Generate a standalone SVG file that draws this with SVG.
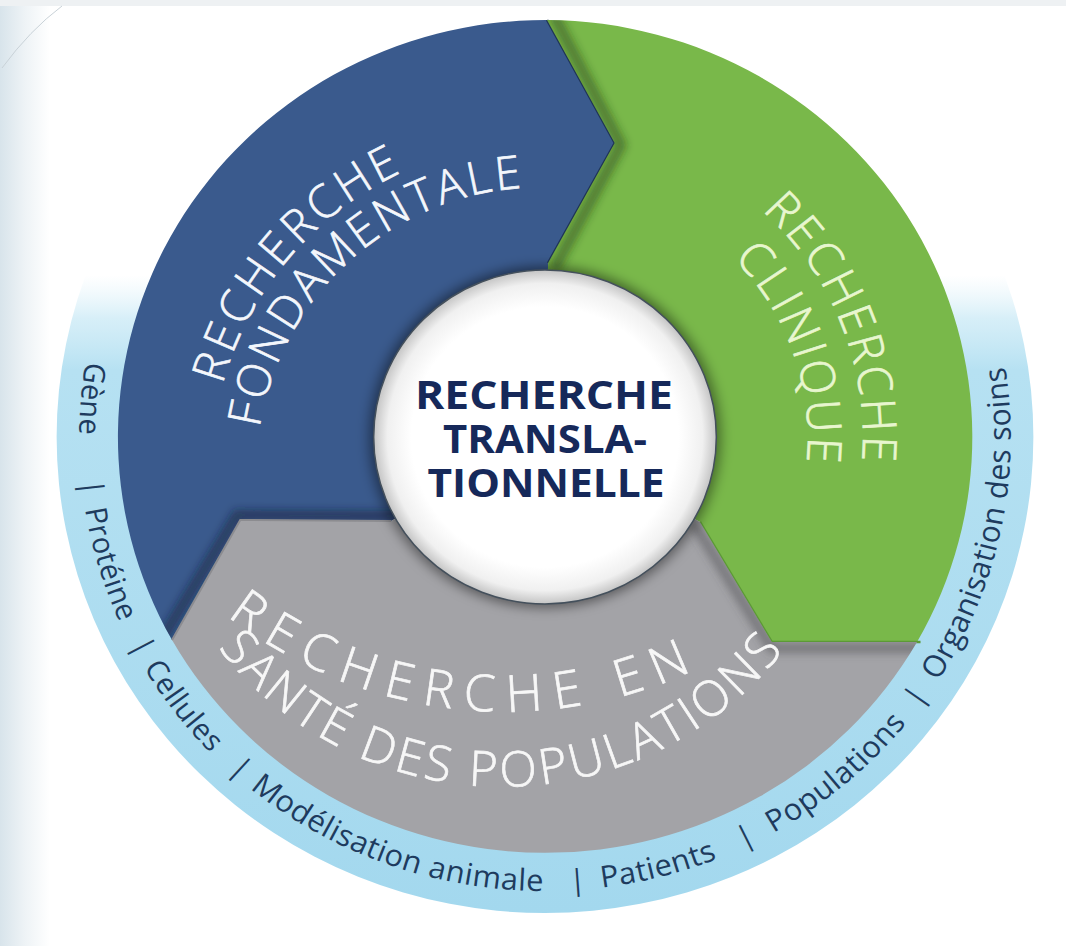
<svg xmlns="http://www.w3.org/2000/svg" width="1066" height="946" viewBox="0 0 1066 946">
<style>
.seg-text{font-family:"Open Sans",Lato,"DejaVu Sans",sans-serif;font-weight:300;font-size:46px;letter-spacing:3px;stroke-width:0.7px}
.blue-t{fill:#f4f7fc;stroke:#f4f7fc}
.green-t{fill:#e8f6cf;stroke:#e8f6cf}
.gray-t{fill:#f7f7f7;stroke:#f7f7f7;font-size:49px}
.band-text{font-family:"Open Sans",Lato,"DejaVu Sans",sans-serif;font-size:30px;fill:#1e3b5e;letter-spacing:0.5px}
.band-l{font-size:29px}
.bar{font-family:"Open Sans",Lato,sans-serif;font-size:29px;fill:#1e3b5e}
.center-text{font-family:"Open Sans","DejaVu Sans",sans-serif;font-weight:700;font-size:40px;fill:#16295a;text-anchor:middle}
</style>
<defs>
  <linearGradient id="bgLeft" gradientUnits="userSpaceOnUse" x1="0" y1="0" x2="50" y2="0">
    <stop offset="0" stop-color="#d8e4eb"/>
    <stop offset="0.5" stop-color="#eef3f6"/>
    <stop offset="1" stop-color="#ffffff"/>
  </linearGradient>
  <linearGradient id="bandGrad" gradientUnits="userSpaceOnUse" x1="0" y1="-476" x2="0" y2="476">
    <stop offset="0" stop-color="#ffffff" stop-opacity="0"/>
    <stop offset="0.33" stop-color="#d8eff8" stop-opacity="0"/>
    <stop offset="0.375" stop-color="#c6e8f5" stop-opacity="0.7"/>
    <stop offset="0.43" stop-color="#b6e1f2" stop-opacity="1"/>
    <stop offset="1" stop-color="#a3d8ee"/>
  </linearGradient>
  <radialGradient id="centerGrad" cx="0.5" cy="0.5" r="0.5">
    <stop offset="0" stop-color="#ffffff"/>
    <stop offset="0.78" stop-color="#ffffff"/>
    <stop offset="0.92" stop-color="#f0f0f0"/>
    <stop offset="1" stop-color="#c4c4c4"/>
  </radialGradient>
  <filter id="blur4" x="-20%" y="-20%" width="140%" height="140%"><feGaussianBlur stdDeviation="4"/></filter>
  <filter id="blur6" x="-20%" y="-20%" width="140%" height="140%"><feGaussianBlur stdDeviation="6"/></filter>
  <clipPath id="clipBlue" clipPathUnits="userSpaceOnUse"><path d="M -363.5 203 A 417 417 0 0 1 2 -417 L 68 -294 L 3 -174 L 0 0 L -150 84 L -297 83 Z"/></clipPath>
  <clipPath id="clipGreen" clipPathUnits="userSpaceOnUse"><path d="M 2 -417 A 417 417 0 0 1 362.6 205 L 221 205 L 151 85 L 0 0 L 3 -174 L 68 -294 Z"/></clipPath>
  <clipPath id="clipGray" clipPathUnits="userSpaceOnUse"><path d="M 362.6 205 A 417 417 0 0 1 -363.5 203 L -297 83 L -150 84 L 0 0 L 151 85 L 221 205 Z"/></clipPath>
  <path id="tpB1" d="M 305.6 703.3 A 330 330 0 0 1 732.6 203.3"/>
  <path id="tpB2" d="M 314.0 644.3 A 285 285 0 0 1 734.6 262.9"/>
  <path id="tpG1" d="M -85.4 -298.0 A 310 310 0 0 1 135.9 278.6"/>
  <path id="tpG2" d="M -61.9 -248.4 A 256 256 0 0 1 104.1 233.9"/>
  <path id="tpP1" d="M 55.1 254.1 A 450 450 0 0 0 946.7 347.9"/>
  <path id="tpP2" d="M 144.4 459.3 A 359 359 0 0 0 859.6 459.3"/>
  <path id="tpBand" d="M -426.6 -155.3 A 454 454 0 1 0 426.6 -155.3"/>
</defs>

<rect x="0" y="0" width="1066" height="946" fill="#ffffff"/>
<rect x="0" y="0" width="50" height="946" fill="url(#bgLeft)"/>
<rect x="0" y="0" width="1066" height="6" fill="#eef1f3"/>
<path d="M 2 68 Q 30 30 62 6" fill="none" stroke="#c9d2d8" stroke-width="1"/>

<g transform="translate(545,437) scale(1.026,1)">
  <g id="band">
    <path d="M -476 0 A 476 476 0 1 0 476 0 A 476 476 0 1 0 -476 0 Z M -414 0 A 414 414 0 1 1 414 0 A 414 414 0 1 1 -414 0 Z" fill="url(#bandGrad)" fill-rule="evenodd"/>
    <text class="band-text band-l"><textPath href="#tpBand" startOffset="83">Gène</textPath></text>
    <text class="bar" text-anchor="middle"><textPath href="#tpBand" startOffset="210">|</textPath></text>
    <text class="band-text band-l"><textPath href="#tpBand" startOffset="231">Protéine</textPath></text>
    <text class="bar" text-anchor="middle"><textPath href="#tpBand" startOffset="381">|</textPath></text>
    <text class="band-text band-l"><textPath href="#tpBand" startOffset="400">Cellules</textPath></text>
    <text class="bar" text-anchor="middle"><textPath href="#tpBand" startOffset="540">|</textPath></text>
    <text class="band-text"><textPath href="#tpBand" startOffset="560">Modélisation animale</textPath></text>
    <text class="bar" text-anchor="middle"><textPath href="#tpBand" startOffset="904">|</textPath></text>
    <text class="band-text"><textPath href="#tpBand" startOffset="927">Patients</textPath></text>
    <text class="bar" text-anchor="middle"><textPath href="#tpBand" startOffset="1078">|</textPath></text>
    <text class="band-text"><textPath href="#tpBand" startOffset="1104">Populations</textPath></text>
    <text class="bar" text-anchor="middle"><textPath href="#tpBand" startOffset="1302">|</textPath></text>
    <text class="band-text"><textPath href="#tpBand" startOffset="1327">Organisation des soins</textPath></text>
  </g>

  <g id="recherche-fondamentale-shape">
    <path d="M -363.5 203 A 417 417 0 0 1 2 -417 L 68 -294 L 3 -174 L 0 0 L -150 84 L -297 83 Z" fill="#3a5a8d"/>
    <g clip-path="url(#clipBlue)">
      <polyline points="-372,210 -297,83 -140,84" fill="none" stroke="#0f1d35" stroke-width="10" stroke-opacity="0.55" filter="url(#blur4)" transform="translate(-3,-5)"/>
    </g>
    <polyline points="2,-417 68,-294 3,-174" fill="none" stroke="#1f3457" stroke-width="2.5"/>
  </g>

  <g id="recherche-clinique">
    <path d="M 2 -417 A 417 417 0 0 1 362.6 205 L 221 205 L 151 85 L 0 0 L 3 -174 L 68 -294 Z" fill="#79b84a"/>
    <g clip-path="url(#clipGreen)">
      <polyline points="2,-425 68,-294 3,-170" fill="none" stroke="#1f3a10" stroke-width="10" stroke-opacity="0.5" filter="url(#blur4)" transform="translate(6,2)"/>
    </g>
    <polyline points="151,85 221,205 366,205" fill="none" stroke="#5c9a36" stroke-width="2.5"/>
    <text class="seg-text green-t"><textPath href="#tpG1" startOffset="50%" text-anchor="middle">RECHERCHE</textPath></text>
    <text class="seg-text green-t"><textPath href="#tpG2" startOffset="50%" text-anchor="middle">CLINIQUE</textPath></text>
  </g>

  <g id="recherche-sante-shape">
    <path d="M 362.6 205 A 417 417 0 0 1 -363.5 203 L -297 83 L -150 84 L 0 0 L 151 85 L 221 205 Z" fill="#a3a3a7"/>
    <g clip-path="url(#clipGray)">
      <polyline points="145,80 221,205 372,205" fill="none" stroke="#4a4a50" stroke-width="10" stroke-opacity="0.5" filter="url(#blur4)" transform="translate(0,6)"/>
    </g>
    <polyline points="-363.5,203 -297,83 -150,84" fill="none" stroke="#8c8c90" stroke-width="2"/>
  </g>

  <g id="recherche-translationnelle-circle">
    <circle cx="0" cy="0" r="171" fill="#000000" fill-opacity="0.45" filter="url(#blur6)"/>
    <circle cx="0" cy="0" r="167" fill="url(#centerGrad)" stroke="#44505c" stroke-width="1.5"/>
  </g>
</g>

<g id="recherche-fondamentale">
  <text class="seg-text blue-t" style="letter-spacing:4px"><textPath href="#tpB1" startOffset="50%" text-anchor="middle">RECHERCHE</textPath></text>
  <text class="seg-text blue-t"><textPath href="#tpB2" startOffset="50%" text-anchor="middle">FONDAMENTALE</textPath></text>
</g>

<g id="recherche-sante-populations">
  <text class="seg-text gray-t" style="font-size:51px;letter-spacing:12px"><textPath href="#tpP1" startOffset="50%" text-anchor="middle">RECHERCHE EN</textPath></text>
  <text class="seg-text gray-t" style="letter-spacing:3.5px"><textPath href="#tpP2" startOffset="50%" text-anchor="middle">SANTÉ DES POPULATIONS</textPath></text>
</g>

<g id="recherche-translationnelle">
  <text class="center-text" x="544" y="409" textLength="258" lengthAdjust="spacingAndGlyphs">RECHERCHE</text>
  <text class="center-text" x="545" y="453" textLength="204" lengthAdjust="spacingAndGlyphs">TRANSLA-</text>
  <text class="center-text" x="546" y="497" textLength="237" lengthAdjust="spacingAndGlyphs">TIONNELLE</text>
</g>
</svg>
